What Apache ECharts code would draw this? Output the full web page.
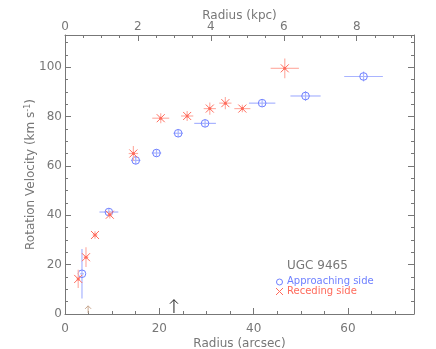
<!DOCTYPE html>
<html>
<head>
<meta charset="utf-8">
<script src="https://cdn.jsdelivr.net/npm/echarts@6/dist/echarts.min.js"></script>
<style>
  html, body { margin: 0; padding: 0; background: #fff; }
  #main { width: 436px; height: 349px; }
</style>
</head>
<body>
<div id="main"></div>
<script>
// approaching side (blue circles)
var appR = [3.6, 9.3, 15.0, 19.4, 24.0, 29.7, 41.8, 51.0, 63.3];
var appV = [16.3, 41.3, 62.2, 65.2, 73.2, 77.2, 85.4, 88.3, 96.2];
var appRerr = [0.4, 2.0, 1.0, 1.0, 1.0, 2.3, 2.8, 3.2, 4.1];
var appVerr = [10, 1.5, 1.5, 1.5, 1.5, 1.5, 1.5, 2, 2];

// receding side (red asterisks)
var recR = [2.8, 4.45, 6.36, 9.5, 14.5, 20.3, 25.9, 30.7, 34.0, 37.6, 46.6];
var recV = [14.2, 23.0, 32.0, 40.2, 65.0, 79.3, 80.2, 83.2, 85.4, 83.2, 99.5];
var recRerr = [0.3, 0.5, 0.5, 0.5, 1.0, 1.8, 1.3, 1.3, 1.3, 1.7, 3.0];
var recVerr = [3.7, 4, 1.5, 1.5, 3, 2, 2, 2.5, 2.5, 1.5, 4];

// arrows on the radius axis
var arrowR = [4.9, 23.1];
var arrowLen = [3.3, 5.8];
var arrowColor = ['#c8a890', '#222'];

var xMax = 74;           // arcsec
var kpcMax = 9.57;       // same extent in kpc
var yMax = 113;

var gray = '#777';
var blue = '#6f80ff', blueLight = '#a9b4ff';
var red = '#ff6b5c', redLight = '#ffb0a6';
var font = 'DejaVu Sans';

function pack(r, v, re, ve) {
  var out = [];
  for (var i = 0; i < r.length; i++) out.push([r[i], v[i], re[i], ve[i]]);
  return out;
}

function errRender(kind) {
  return function (params, api) {
    var x = api.value(0), y = api.value(1), ex = api.value(2), ey = api.value(3);
    var c = api.coord([x, y]);
    var l = api.coord([x - ex, y]), r = api.coord([x + ex, y]);
    var t = api.coord([x, y + ey]), b = api.coord([x, y - ey]);
    var lc = kind === 'app' ? blueLight : redLight;
    var mc = kind === 'app' ? blue : red;
    var kids = [
      { type: 'line', shape: { x1: l[0], y1: c[1], x2: r[0], y2: c[1] }, style: { stroke: lc, lineWidth: 1.2 } },
      { type: 'line', shape: { x1: c[0], y1: t[1], x2: c[0], y2: b[1] }, style: { stroke: lc, lineWidth: 1.2 } }
    ];
    if (kind === 'app') {
      kids.push({ type: 'circle', shape: { cx: c[0], cy: c[1], r: 3.8 }, style: { fill: 'none', stroke: mc, lineWidth: 1 } });
    } else {
      var s = 4;
      kids.push({ type: 'line', shape: { x1: c[0] - s, y1: c[1] - s, x2: c[0] + s, y2: c[1] + s }, style: { stroke: mc, lineWidth: 1 } });
      kids.push({ type: 'line', shape: { x1: c[0] - s, y1: c[1] + s, x2: c[0] + s, y2: c[1] - s }, style: { stroke: mc, lineWidth: 1 } });
      kids.push({ type: 'circle', shape: { cx: c[0], cy: c[1], r: 1.5 }, style: { fill: mc } });
    }
    return { type: 'group', children: kids };
  };
}

var myChart = echarts.init(document.getElementById('main'));

// main axis: line, major ticks (inside), labels
function mainAxis(extra) {
  return echarts.util.merge(extra, {
    type: 'value',
    axisLine: { show: true, onZero: false, lineStyle: { color: gray, width: 1 } },
    axisTick: { show: true, inside: true, length: 6, lineStyle: { color: gray } },
    minorTick: { show: false },
    splitLine: { show: false },
    axisLabel: { color: gray, fontFamily: font, fontSize: 12, showMaxLabel: false },
    nameTextStyle: { color: gray, fontFamily: font, fontSize: 12 },
    nameMoveOverlap: false
  });
}
// helper axis carrying only the short minor ticks
function minorAxis(position, max, step) {
  return {
    type: 'value', position: position, min: 0, max: max, interval: step,
    axisLine: { show: false, onZero: false },
    axisTick: { show: true, inside: true, length: 3, lineStyle: { color: gray } },
    axisLabel: { show: false },
    splitLine: { show: false }
  };
}

var option = {
  animation: false,
  backgroundColor: '#fff',
  grid: { left: 65, right: 22, top: 35, bottom: 35, containLabel: false, outerBoundsMode: 'none' },
  xAxis: [
    mainAxis({
      position: 'bottom', min: 0, max: xMax, interval: 20,
      name: 'Radius (arcsec)', nameLocation: 'middle', nameGap: 24,
      axisLabel: { margin: 9 }
    }),
    mainAxis({
      position: 'top', min: 0, max: kpcMax, interval: 2,
      name: 'Radius (kpc)', nameLocation: 'middle', nameGap: 13,
      axisLabel: { margin: 2 }
    }),
    minorAxis('bottom', xMax, 5),
    minorAxis('top', kpcMax, 0.5)
  ],
  yAxis: [
    mainAxis({
      position: 'left', min: 0, max: yMax, interval: 20,
      name: 'Rotation Velocity (km s{sup|-1})', nameLocation: 'middle', nameGap: 27, nameRotate: 90,
      axisLabel: { margin: 3 },
      nameTextStyle: { rich: { sup: { fontSize: 8, verticalAlign: 'top', color: gray, fontFamily: font, padding: [0, 0, 6, 0] } } }
    }),
    mainAxis({
      position: 'right', min: 0, max: yMax, interval: 20,
      axisLabel: { show: false }
    }),
    minorAxis('left', yMax, 5),
    minorAxis('right', yMax, 5)
  ],
  series: [
    {
      type: 'custom', name: 'Approaching side', xAxisIndex: 0, yAxisIndex: 0,
      renderItem: errRender('app'), data: pack(appR, appV, appRerr, appVerr)
    },
    {
      type: 'custom', name: 'Receding side', xAxisIndex: 0, yAxisIndex: 0,
      renderItem: errRender('rec'), data: pack(recR, recV, recRerr, recVerr)
    },
    {
      type: 'custom', name: 'arrows', xAxisIndex: 0, yAxisIndex: 0,
      data: arrowR.map(function (r, i) { return [r, arrowLen[i], i]; }),
      renderItem: function (params, api) {
        var b = api.coord([api.value(0), 0]);
        var t = api.coord([api.value(0), api.value(1)]);
        var col = arrowColor[api.value(2)];
        var h = api.value(2) === 1 ? 4 : 3;
        return {
          type: 'group', children: [
            { type: 'line', shape: { x1: b[0], y1: b[1] - 1, x2: t[0], y2: t[1] }, style: { stroke: col, lineWidth: 1 } },
            { type: 'polyline', shape: { points: [[t[0] - h, t[1] + h], [t[0], t[1]], [t[0] + h, t[1] + h]] }, style: { stroke: col, fill: 'none', lineWidth: 1 } }
          ]
        };
      }
    }
  ],
  graphic: [
    { type: 'text', left: 287, top: 260, style: { text: 'UGC 9465', fill: gray, font: '12px "DejaVu Sans"' } },
    { type: 'circle', shape: { cx: 279.5, cy: 282, r: 3 }, style: { fill: 'none', stroke: blue, lineWidth: 1 } },
    { type: 'text', left: 287, top: 276, style: { text: 'Approaching side', fill: blue, font: '10px "DejaVu Sans"' } },
    { type: 'polyline', shape: { points: [[276, 288], [283, 295]] }, style: { stroke: red, lineWidth: 1 } },
    { type: 'polyline', shape: { points: [[276, 295], [283, 288]] }, style: { stroke: red, lineWidth: 1 } },
    { type: 'text', left: 287, top: 286, style: { text: 'Receding side', fill: red, font: '10px "DejaVu Sans"' } }
  ]
};

myChart.setOption(option);
window.onresize = myChart.resize;
</script>
</body>
</html>
